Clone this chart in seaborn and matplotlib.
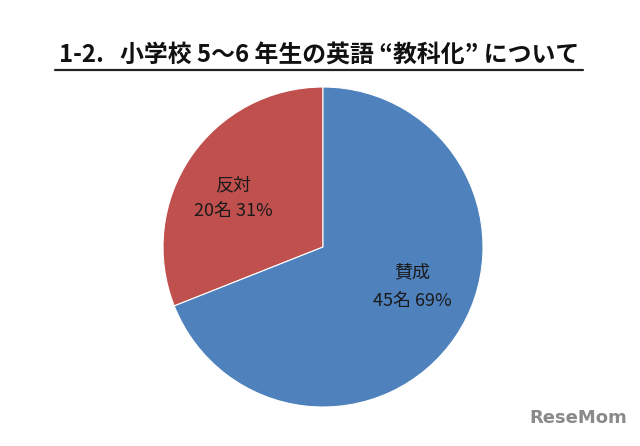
import matplotlib
matplotlib.use("Agg")
import matplotlib.pyplot as plt
import seaborn as sns
from matplotlib.lines import Line2D

sns.set_theme(style="white")
plt.rcParams['font.family'] = ['Noto Sans CJK JP', 'DejaVu Sans']

# Data
categories = ["反対", "賛成"]
counts = [20, 45]
percents = [31, 69]
colors = ["#C0504D", "#4F81BD"]
title = "1-2.   小学校 5～6 年生の英語 “教科化” について"

fig = plt.figure(figsize=(6.4, 4.46), dpi=100)
fig.patch.set_facecolor("white")
ax = fig.add_axes([0.2547, 0.0874, 0.5, 0.7175])

wedges, _ = ax.pie(percents, colors=colors, startangle=90, counterclock=True,
                   radius=1.0, wedgeprops=dict(edgecolor="white", linewidth=0.8))
ax.set_xlim(-1, 1)
ax.set_ylim(-1, 1)
ax.set_aspect("auto")
ax.axis("off")

label_pos = [(-0.5625, 0.3875, 0.225), (0.556, -0.156, -0.3375)]
for cat, n, p, (x, y1, y2) in zip(categories, counts, percents, label_pos):
    ax.text(x, y1, cat, ha="center", va="center", fontsize=13, color="#1a1a1a")
    ax.text(x, y2, f"{n}名 {p}%", ha="center", va="center", fontsize=13, color="#1a1a1a")

fig.text(319 / 640, 1 - 55 / 446, title, ha="center", va="center",
         fontsize=17.2, fontweight="bold", color="#111111")
fig.add_artist(Line2D([55 / 640, 583 / 640], [1 - 70 / 446, 1 - 70 / 446],
                      color="#222222", linewidth=1.6, transform=fig.transFigure))

fig.text(578 / 640, 1 - 418 / 446, "ReseMom", ha="center", va="center",
         fontsize=13, fontweight="bold", color="#8a8a8a", family=["DejaVu Sans"])

fig.savefig("out.png", dpi=100, facecolor="white")
